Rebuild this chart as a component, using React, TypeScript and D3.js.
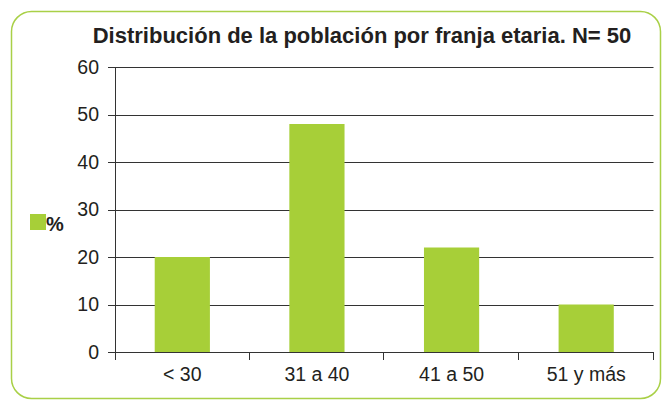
import * as d3 from 'd3';
import React, { useEffect, useRef } from 'react';

const categories = ['< 30', '31 a 40', '41 a 50', '51 y más'];
const values = [20, 48, 22, 10];
const yTicks = [0, 10, 20, 30, 40, 50, 60];
const title = 'Distribución de la población por franja etaria. N= 50';
const seriesName = '%';

const W = 662;
const H = 400;
const green = '#a7cf38';
const font = "'Liberation Sans', Arial, sans-serif";

export default function App() {
  const ref = useRef<SVGSVGElement>(null);

  useEffect(() => {
    const svg = d3.select(ref.current);
    svg.selectAll('*').remove();

    const left = 115, right = 653.5, top = 67, bottom = 352;

    // frame
    svg.append('rect')
      .attr('x', 11.5).attr('y', 11.5)
      .attr('width', 649).attr('height', 387)
      .attr('rx', 20).attr('ry', 20)
      .attr('fill', 'white')
      .attr('stroke', '#a9d047')
      .attr('stroke-width', 1.5);

    svg.append('text')
      .attr('x', 362).attr('y', 43)
      .attr('text-anchor', 'middle')
      .attr('font-family', font)
      .attr('font-weight', 'bold')
      .attr('font-size', 22)
      .attr('fill', '#231f20')
      .text(title);

    const x = d3.scaleBand<string>()
      .domain(categories)
      .range([left, right])
      .paddingInner(0.59)
      .paddingOuter(0.295);

    const y = d3.scaleLinear().domain([0, 60]).range([bottom, top]);

    // gridlines
    svg.append('g')
      .selectAll('line')
      .data(yTicks)
      .enter().append('line')
      .attr('x1', left - 7).attr('x2', right)
      .attr('y1', d => Math.round(y(d)) + 0.5)
      .attr('y2', d => Math.round(y(d)) + 0.5)
      .attr('stroke', '#333')
      .attr('stroke-width', 1);

    // bars
    svg.append('g')
      .selectAll('rect')
      .data(values)
      .enter().append('rect')
      .attr('x', (d, i) => x(categories[i])!)
      .attr('y', d => y(d))
      .attr('width', x.bandwidth())
      .attr('height', d => y(0) - y(d))
      .attr('fill', green);

    // y axis line
    svg.append('line')
      .attr('x1', left + 0.5).attr('x2', left + 0.5)
      .attr('y1', top).attr('y2', bottom + 8)
      .attr('stroke', '#333');

    // y labels
    svg.append('g')
      .selectAll('text')
      .data(yTicks)
      .enter().append('text')
      .attr('x', 99)
      .attr('y', d => y(d) + 6.5)
      .attr('text-anchor', 'end')
      .attr('font-family', font)
      .attr('font-size', 19.5)
      .attr('fill', '#231f20')
      .text(d => d);

    // x ticks at category boundaries
    const step = x.step();
    const bounds = d3.range(categories.length + 1).map(i => left + i * step);
    svg.append('g')
      .selectAll('line')
      .data(bounds.slice(1))
      .enter().append('line')
      .attr('x1', d => Math.round(d) - 0.5).attr('x2', d => Math.round(d) - 0.5)
      .attr('y1', bottom).attr('y2', bottom + 8)
      .attr('stroke', '#333');

    svg.append('g')
      .selectAll('text')
      .data(categories)
      .enter().append('text')
      .attr('x', d => x(d)! + x.bandwidth() / 2)
      .attr('y', 381)
      .attr('text-anchor', 'middle')
      .attr('font-family', font)
      .attr('font-size', 19.5)
      .attr('fill', '#231f20')
      .text(d => d);

    // legend
    svg.append('rect')
      .attr('x', 30).attr('y', 214)
      .attr('width', 16).attr('height', 16)
      .attr('fill', green);
    svg.append('text')
      .attr('x', 46).attr('y', 231)
      .attr('font-family', font)
      .attr('font-weight', 'bold')
      .attr('font-size', 20)
      .attr('fill', '#231f20')
      .text(seriesName);
  }, []);

  return (
    <svg ref={ref} width={W} height={H}
      style={{ position: 'absolute', left: 0, top: 0, background: 'white' }} />
  );
}
